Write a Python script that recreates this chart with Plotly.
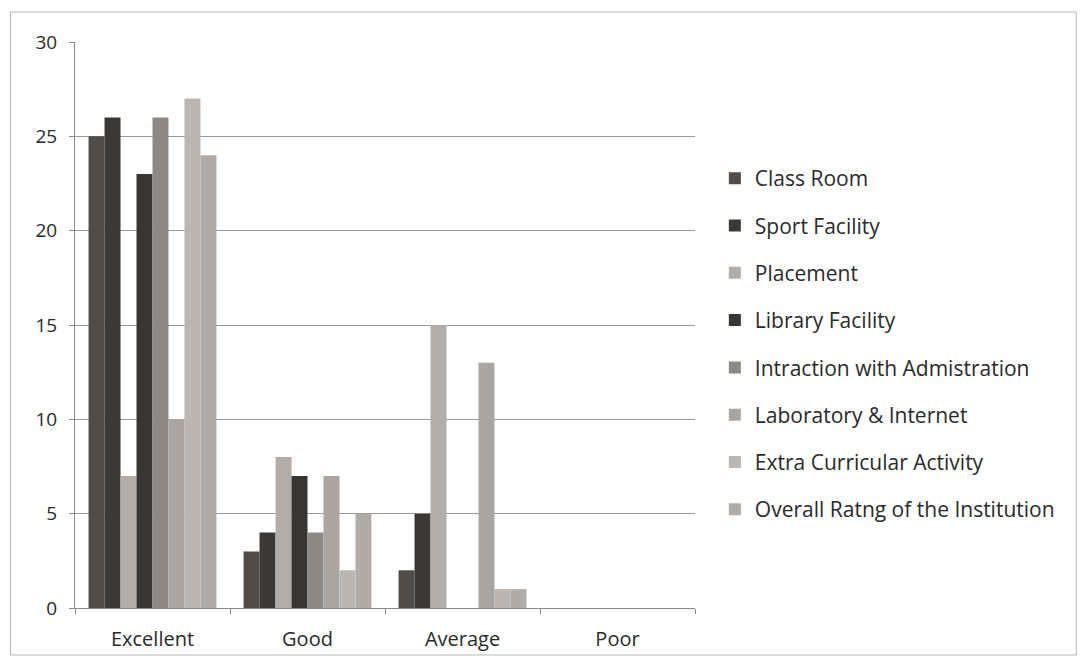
import plotly.graph_objects as go

categories = ["Excellent", "Good", "Average", "Poor"]

class_room = [25, 3, 2, 0]
sport_facility = [26, 4, 5, 0]
placement = [7, 8, 15, 0]
library_facility = [23, 7, 0, 0]
intraction_admin = [26, 4, 0, 0]
lab_internet = [10, 7, 13, 0]
extra_curricular = [27, 2, 1, 0]
overall_rating = [24, 5, 1, 0]

series_names = [
    "Class Room", "Sport Facility", "Placement", "Library Facility",
    "Intraction with Admistration", "Laboratory & Internet",
    "Extra Curricular Activity", "Overall Ratng of the Institution",
]
series_values = [
    class_room, sport_facility, placement, library_facility,
    intraction_admin, lab_internet, extra_curricular, overall_rating,
]
colors = ["#514c48", "#3c3835", "#b3adaa", "#393532",
          "#8f8986", "#aba5a2", "#bcb6b3", "#b1aba8"]

font = "'Open Sans', sans-serif"

fig = go.Figure()
for name, vals, col in zip(series_names, series_values, colors):
    fig.add_trace(go.Bar(
        x=categories, y=vals, name=name, legendgroup=name,
        marker=dict(color=col, line=dict(width=0)),
    ))

fig.update_layout(
    width=1086, height=668,
    margin=dict(l=67, r=399, t=34, b=68),
    paper_bgcolor="white", plot_bgcolor="white",
    barmode="group", bargap=0.175, bargroupgap=0,
    font=dict(family=font, size=17, color="#333333"),
    legend=dict(x=1.032, y=0.795, yanchor="top", xanchor="left",
                tracegroupgap=17, font=dict(size=21, color="#2a2a2a"),
                itemwidth=30),
    showlegend=True,
)
fig.update_xaxes(
    showline=True, linecolor="#8a8a8a", linewidth=1,
    ticks="outside", tickson="boundaries", ticklen=5, tickcolor="#8a8a8a",
    tickfont=dict(size=20, color="#2a2a2a"), ticklabelstandoff=13,
)
fig.update_yaxes(
    range=[0, 30], dtick=5, showgrid=True, gridcolor="#9a9a9a", gridwidth=1,
    showline=True, linecolor="#8a8a8a", linewidth=1,
    ticks="outside", ticklen=5, tickcolor="#8a8a8a",
    tickfont=dict(size=19, color="#2a2a2a"), zeroline=False,
    ticklabelstandoff=8,
)
# light frame round the whole chart, as in the scan
fig.add_shape(type="rect", xref="paper", yref="paper",
              x0=-0.104, x1=1.615, y0=-0.083, y1=1.053,
              line=dict(color="#b8b8b8", width=1))

fig.write_html("out.html")
